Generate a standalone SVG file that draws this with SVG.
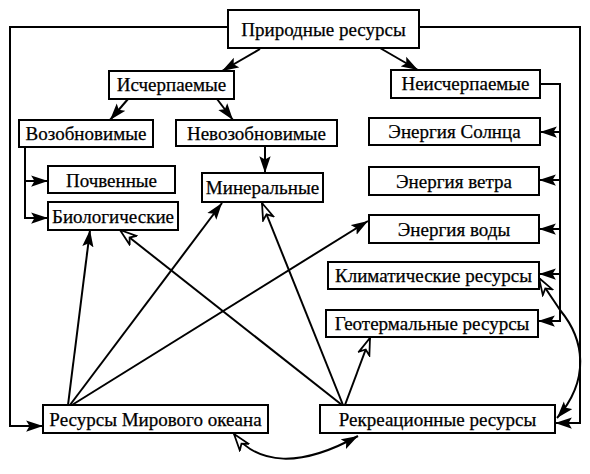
<svg xmlns="http://www.w3.org/2000/svg" width="590" height="474" viewBox="0 0 590 474">
<style>
.box rect{fill:#fff;stroke:#000;stroke-width:2}
.box text{font-family:"Liberation Serif","Times New Roman",serif;font-size:19px;text-anchor:middle;fill:#000;stroke:#000;stroke-width:0.25}
.c path,.c line,.c polyline{fill:none;stroke:#000;stroke-width:2}
.f{marker-end:url(#fa)}
.o{marker-end:url(#oa)}
</style>
<defs>
<marker id="fa" markerUnits="userSpaceOnUse" markerWidth="18" markerHeight="12" refX="15" refY="5" orient="auto-start-reverse" viewBox="0 0 16 10">
<path d="M0,0 L15,5 L0,10 L3,5 z" fill="#000" stroke="none"/>
</marker>
<marker id="oa" markerUnits="userSpaceOnUse" markerWidth="20" markerHeight="14" refX="16" refY="6" orient="auto-start-reverse" viewBox="0 0 18 12">
<path d="M1,1 L16,6 L1,11 L5,6 z" fill="#fff" stroke="#000" stroke-width="1.6"/>
</marker>
</defs>
<g class="c" id="connectors">
<polyline points="228,27 10,27 10,426 43,426" class="f"/>
<polyline points="419,27 580,27 580,423 555,423" class="f"/>
<line x1="260" y1="49" x2="222" y2="71" class="f"/>
<line x1="380" y1="48" x2="418" y2="70" class="f"/>
<line x1="128" y1="99" x2="110" y2="120" class="f"/>
<line x1="217" y1="99" x2="233" y2="120" class="f"/>
<polyline points="25,147 25,218"/>
<line x1="25" y1="181" x2="48" y2="181" class="f"/>
<line x1="24" y1="218" x2="48" y2="218" class="f"/>
<line x1="265" y1="146" x2="265" y2="173" class="f"/>
<polyline points="540,84 560,84 560,321"/>
<line x1="561" y1="132" x2="540" y2="132" class="f"/>
<line x1="561" y1="180" x2="539" y2="180" class="f"/>
<line x1="561" y1="229" x2="539" y2="229" class="f"/>
<line x1="561" y1="274" x2="539" y2="274" class="f"/>
<line x1="561" y1="321" x2="538" y2="321" class="f"/>
<line x1="68" y1="405" x2="90" y2="230" class="f"/>
<line x1="70" y1="405" x2="222" y2="203" class="f"/>
<line x1="72" y1="405" x2="368" y2="221" class="f"/>
<line x1="342" y1="405" x2="120" y2="230" class="o"/>
<line x1="343" y1="405" x2="262" y2="203" class="o"/>
<line x1="345" y1="405" x2="370" y2="338" class="o"/>
<path d="M557,418 C590,380 585,340 560,310 C552,298 545,288 539,278" style="marker-start:url(#fa);marker-end:url(#oa)"/>
<path d="M234,434 C258,465 300,468 358,436" style="marker-start:url(#oa);marker-end:url(#fa)"/>
</g>
<g id="n_prirodnye" class="box"><rect x="228" y="10" width="191" height="38"/><text x="323.5" y="36">Природные ресурсы</text></g>
<g id="n_ischerp" class="box"><rect x="109" y="71" width="125" height="28"/><text x="171.5" y="91">Исчерпаемые</text></g>
<g id="n_neischerp" class="box"><rect x="391" y="70" width="149" height="28"/><text x="465.5" y="90">Неисчерпаемые</text></g>
<g id="n_vozob" class="box"><rect x="19" y="120" width="134" height="27"/><text x="86" y="140">Возобновимые</text></g>
<g id="n_nevozob" class="box"><rect x="176" y="120" width="161" height="26"/><text x="256.5" y="139.5">Невозобновимые</text></g>
<g id="n_pochv" class="box"><rect x="48" y="166" width="127" height="27"/><text x="111.5" y="186.5">Почвенные</text></g>
<g id="n_biol" class="box"><rect x="48" y="202" width="130" height="28"/><text x="113" y="222.5">Биологические</text></g>
<g id="n_miner" class="box"><rect x="202" y="173" width="121" height="29"/><text x="262.5" y="194">Минеральные</text></g>
<g id="n_solnce" class="box"><rect x="369" y="118" width="171" height="27"/><text x="454.5" y="138">Энергия Солнца</text></g>
<g id="n_veter" class="box"><rect x="369" y="167" width="170" height="28"/><text x="454" y="187.5">Энергия ветра</text></g>
<g id="n_voda" class="box"><rect x="369" y="215" width="170" height="28"/><text x="454" y="235.5">Энергия воды</text></g>
<g id="n_klimat" class="box"><rect x="328" y="262" width="211" height="27"/><text x="433.5" y="282">Климатические ресурсы</text></g>
<g id="n_geoterm" class="box"><rect x="326" y="310" width="212" height="27"/><text x="432" y="330">Геотермальные ресурсы</text></g>
<g id="n_rekreac" class="box"><rect x="320" y="405" width="235" height="28"/><text x="437.5" y="425.5">Рекреационные ресурсы</text></g>
<g id="n_okean" class="box"><rect x="43" y="405" width="225" height="28"/><text x="155.5" y="425.5">Ресурсы Мирового океана</text></g>
</svg>
